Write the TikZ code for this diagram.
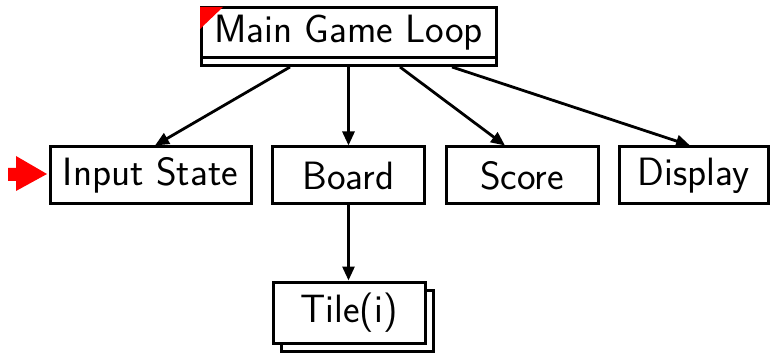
\documentclass[tikz,border=0pt]{standalone}
\usetikzlibrary{arrows.meta}
\begin{document}
\begin{tikzpicture}[x=1pt,y=-1pt,
  box/.style={draw=black,line width=3pt,fill=white,inner sep=0pt,minimum height=57pt,font=\fontsize{39.5}{44}\sffamily},
  arr/.style={line width=2.8pt,-{Triangle[length=14pt,width=12pt]}}]
\useasboundingbox (0,0) rectangle (770,355);
% main game loop with double bottom
\draw[line width=3pt,fill=white] (201,58) rectangle (496,66);
\node[box,minimum width=295pt,minimum height=50pt] (main) at (348.5,33) {Main Game Loop};
\coordinate (mainb) at (348.5,67);
\fill[red] (200,7) -- (223,7) -- (200,29) -- cycle;
% children
\node[box,minimum width=201pt] (input) at (150.5,175.5) {Input State};
\node[box,minimum width=152pt] (board) at (348.5,175.5) {Board};
\node[box,minimum width=152pt] (score) at (522,175.5) {Score};
\node[box,minimum width=149pt] (display) at (693.5,175.5) {Display};
% tile with stacked copy
\draw[line width=3pt,fill=white] (281,290) rectangle (433,351);
\node[box,minimum width=152pt,minimum height=61pt] (tile) at (349,312.5) {Tile(i)};
% red marker arrow
\fill[red] (8,168) -- (16,168) -- (16,156) -- (47,174) -- (16,191) -- (16,181) -- (8,181) -- cycle;
% connectors
\draw[arr] ([xshift=-58.5pt]mainb) -- ([xshift=4.5pt]input.north);
\draw[arr] (mainb) -- (board.north);
\draw[arr] ([xshift=51.5pt]mainb) -- ([xshift=-17pt]score.north);
\draw[arr] ([xshift=103.5pt]mainb) -- ([xshift=-3.5pt]display.north);
\draw[arr] (board.south) -- (tile.north -| board.south);
\end{tikzpicture}
\end{document}
